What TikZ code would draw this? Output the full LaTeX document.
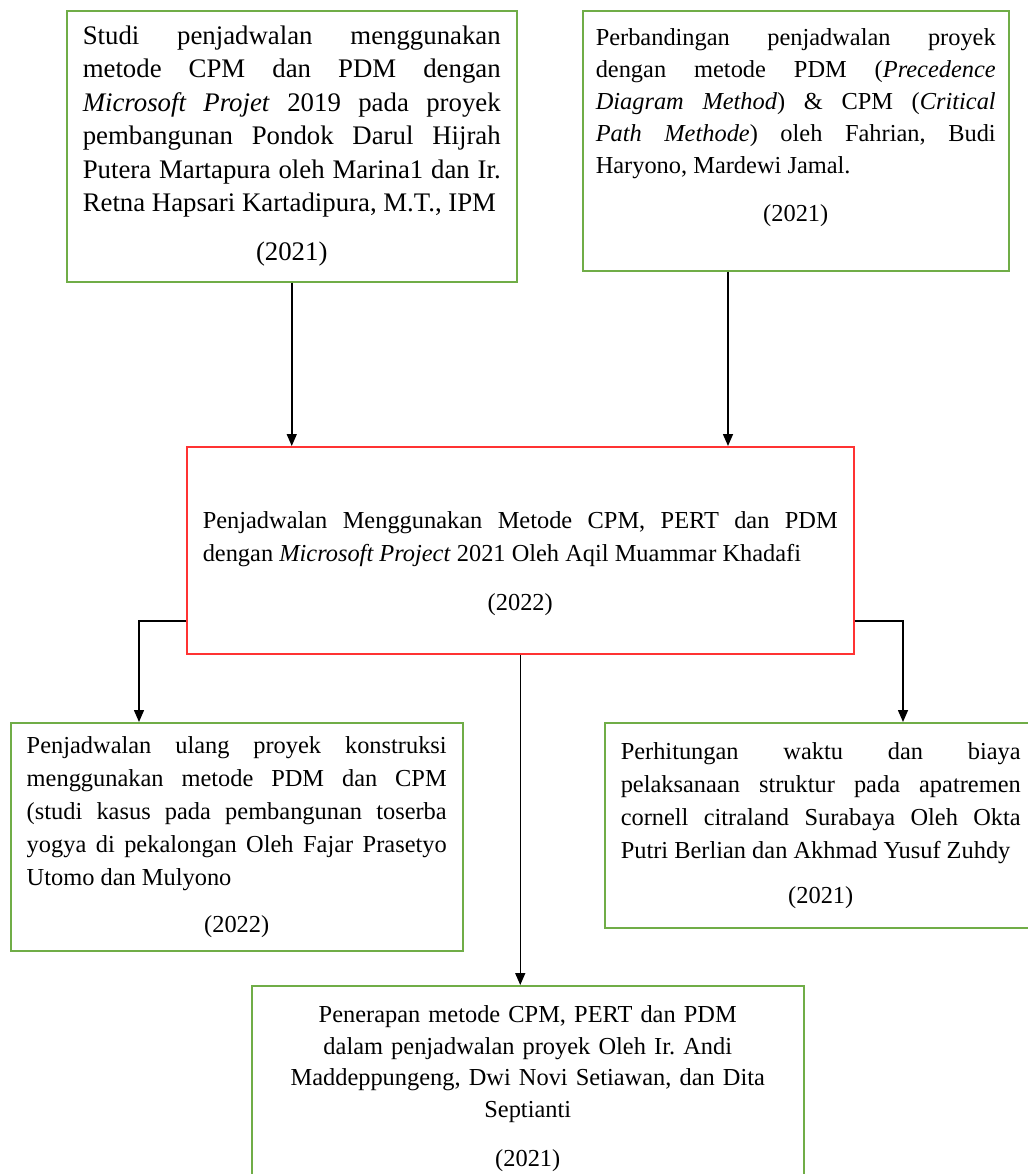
\documentclass[tikz,border=0pt]{standalone}
\usepackage{fontspec}
\setmainfont{Liberation Serif}
\usetikzlibrary{arrows.meta}
\definecolor{boxgreen}{RGB}{112,173,71}
\definecolor{boxred}{RGB}{255,51,51}

\begin{document}
\begin{tikzpicture}[x=0.5pt, y=-0.5pt,
  litbox/.style={draw=boxgreen, line width=0.75pt, anchor=north west, inner xsep=8pt, inner ysep=0pt, align=justify, font=\fontsize{12.2pt}{16.5pt}\selectfont\frenchspacing},
  mainbox/.style={litbox, draw=boxred},
  link/.style={-{Triangle[length=6pt, width=5pt]}, line width=0.75pt}]

\useasboundingbox (0,0) rectangle (1028,1174);
\clip (0,0) rectangle (1028,1174);

\node[litbox, font=\fontsize{13.4pt}{16.7pt}\selectfont\frenchspacing, text width=209pt, minimum height=135.5pt] (A) at (66,10) {Studi penjadwalan menggunakan\linebreak metode CPM dan PDM dengan\linebreak \textit{Microsoft Projet} 2019 pada proyek\linebreak pembangunan Pondok Darul Hijrah\linebreak Putera Martapura oleh Marina1 dan Ir.\linebreak Retna Hapsari Kartadipura, M.T., IPM\par\vspace{8pt}{\centering(2021)\par}};
\node[litbox, font=\fontsize{12.2pt}{16pt}\selectfont\frenchspacing, text width=200pt, inner xsep=6.5pt, minimum height=130pt] (B) at (582,10) {Perbandingan penjadwalan proyek\linebreak dengan metode PDM (\textit{Precedence}\linebreak \textit{Diagram Method}) \& CPM (\textit{Critical}\linebreak \textit{Path Methode}) oleh Fahrian, Budi\linebreak Haryono, Mardewi Jamal.\par\vspace{8pt}{\centering(2021)\rule[-16pt]{0pt}{16pt}\par}};

\node[mainbox, text width=317.5pt, minimum height=103.5pt] (C) at (186,446) {\rule{0pt}{21.5pt}Penjadwalan Menggunakan Metode CPM, PERT dan PDM\linebreak dengan \textit{Microsoft Project} 2021 Oleh Aqil Muammar Khadafi\par\vspace{8pt}{\centering(2022)\par}};

\node[litbox, text width=210pt, minimum height=114pt] (D) at (10,722) {Penjadwalan ulang proyek konstruksi\linebreak menggunakan metode PDM dan CPM\linebreak (studi kasus pada pembangunan toserba\linebreak yogya di pekalongan Oleh Fajar Prasetyo\linebreak Utomo dan Mulyono\par\vspace{7pt}{\centering(2022)\par}};
\node[litbox, text width=200pt, minimum height=102.5pt] (E) at (604,722) {Perhitungan waktu dan biaya\linebreak pelaksanaan struktur pada apatremen\linebreak cornell citraland Surabaya Oleh Okta\linebreak Putri Berlian dan Akhmad Yusuf Zuhdy\par\vspace{6pt}{\centering(2021)\par}};
\node[litbox, align=center, font=\fontsize{12.2pt}{15.7pt}\selectfont\frenchspacing, text width=260pt, minimum height=103pt] (F) at (251,985) {Penerapan metode CPM, PERT dan PDM\\ dalam penjadwalan proyek Oleh Ir. Andi\\ Maddeppungeng, Dwi Novi Setiawan, dan Dita\\ Septianti\\[9pt] (2021)};

\coordinate (bdrop) at (728,0);
\coordinate (lturn) at (139,621);
\coordinate (rturn) at (903,621);

\draw[link] (A.south) -- (A.south |- C.north);
\draw[link] (B.south -| bdrop) -- (C.north -| bdrop);
\draw[link] (C.west |- lturn) -- (lturn) -- (lturn |- D.north);
\draw[link] (C.east |- rturn) -- (rturn) -- (rturn |- E.north);
\draw[link] (C.south) -- (C.south |- F.north);

\end{tikzpicture}
\end{document}
